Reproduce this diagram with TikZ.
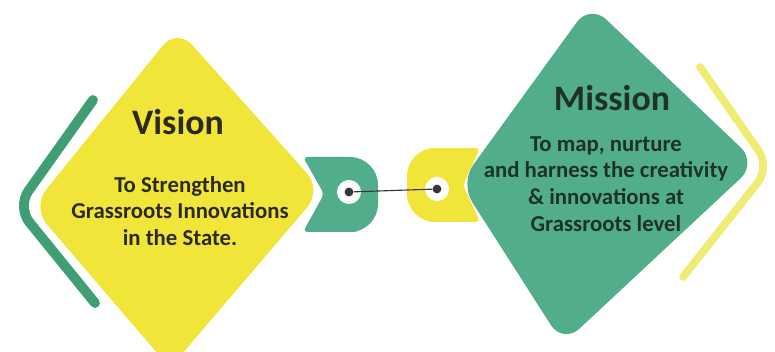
\documentclass[tikz,border=0pt]{standalone}
\usepackage{fontspec}
\setmainfont{Carlito}
\usetikzlibrary{positioning,calc}
\definecolor{visionyellow}{HTML}{F2E53A}
\definecolor{missiongreen}{HTML}{52AE8A}
\definecolor{bracketgreen}{HTML}{3F9E74}
\definecolor{paleyellow}{HTML}{EFEC74}
\definecolor{inkdark}{HTML}{2B2A1F}
\definecolor{inkgreen}{HTML}{1E3326}
\definecolor{dotgrey}{HTML}{3A3440}
\tikzset{
	title/.style={font=\bfseries\fontsize{25.5}{29}\selectfont,anchor=center},
	body/.style={font=\bfseries\fontsize{16.2}{19}\selectfont,align=center,anchor=center},
	hole/.style={circle,fill=white,inner sep=0pt,minimum size=0.6cm},
	pin/.style={circle,fill=dotgrey,inner sep=0pt,minimum size=0.22cm},
	bracket/.style={line width=7pt,line cap=round,rounded corners=14pt},
}

\begin{document}
\begin{tikzpicture}[x=0.025cm,y=-0.025cm]
				\useasboundingbox (0,0) rectangle (775,352);
				
				% side brackets
				\draw[bracket,bracketgreen] (93,100) -- (17,207) -- (95,303);
				\draw[bracket,paleyellow,line width=5.5pt] (700,67) -- (770,167) -- (683,277);
				
				% diamonds
				\fill[visionyellow,rounded corners=16pt] (177,28) -- (322,190) -- (170,368) -- (32,207) -- cycle;
				\fill[missiongreen,rounded corners=16pt] (590,4) -- (757,163) -- (563,344) -- (460,183) -- cycle;
				
				% tabs
				\fill[missiongreen] (340,157) [rounded corners=20pt] -- (378,157) -- (378,232) -- (340,232)
					[rounded corners=3pt] -- (303,232) -- (324,194) -- (303,157) -- cycle;
				\fill[visionyellow] (445,148) [rounded corners=20pt] -- (407,148) -- (407,222) -- (445,222)
					[rounded corners=3pt] -- (480,222) -- (463,185) -- (480,148) -- cycle;
				
				\node (HoleL) at (349,192) [hole] {};
				\node (HoleR) at (437,189) [hole] {};
				\node (PinL) at (HoleL.center) [pin] {};
				\node (PinR) at (HoleR.center) [pin] {};
				\draw[dotgrey,line width=0.8pt] (PinL) -- (PinR);
				
				% texts
				\node (Vision) at (178,122) [title,text=inkdark] {Vision};
				\node (VisionText) at (180,211) [body,text=inkdark] {To Strengthen\\Grassroots Innovations\\in the State.};
				\node (Mission) at (612,98) [title,text=inkgreen] {Mission};
				\node (MissionText) at (606,184) [body,text=inkgreen] {To map, nurture\\and harness the creativity\\\& innovations at\\Grassroots level};
				
				\end{tikzpicture}
\end{document}
